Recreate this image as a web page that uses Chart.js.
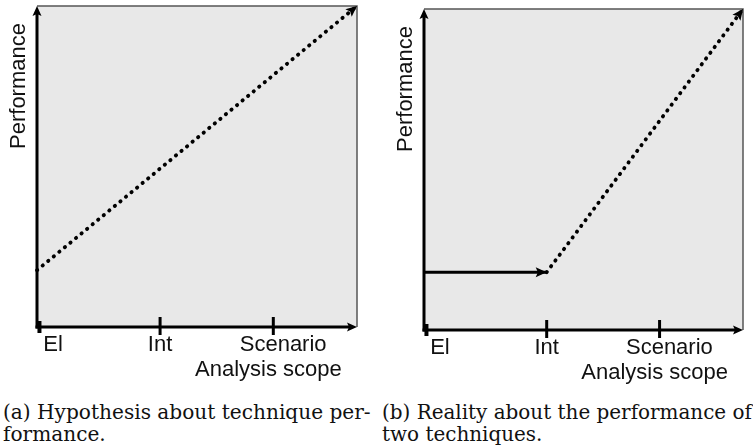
<!DOCTYPE html>
<html><head><meta charset="utf-8">
<script src="https://cdn.jsdelivr.net/npm/chart.js@4.4.0/dist/chart.umd.min.js"></script>
<style>
html,body{margin:0;padding:0;background:#fff;width:753px;height:448px;overflow:hidden}
#wrapA{position:absolute;left:0;top:0;width:376px;height:390px}
#wrapB{position:absolute;left:376px;top:0;width:377px;height:390px}
.cap{position:absolute;font-family:"DejaVu Serif","Liberation Serif",serif;font-size:17.5px;line-height:22px;color:#111;white-space:nowrap}
</style></head><body>
<div id="wrapA"><canvas id="cA"></canvas></div>
<div id="wrapB"><canvas id="cB"></canvas></div>
<div class="cap" id="a1" style="left:3px;top:401px">(a) Hypothesis about technique per-</div>
<div class="cap" id="a2" style="left:3px;top:423px">formance.</div>
<div class="cap" id="b1" style="left:382px;top:401px">(b) Reality about the performance of</div>
<div class="cap" id="b2" style="left:382px;top:423px">two techniques.</div>
<script>
// ---- data ----
const tickLabels = ['El', 'Int', 'Scenario'];
const tickLabelPos = [0.13, 1.0, 2.0];
const tickMarkPos = [0.02, 1.0, 1.92];
const xMax = 2.6;
const yMax = 1.0;
const xTitle = 'Analysis scope';
const xTitlePos = 1.88;
const yTitle = 'Performance';
const hypoX = [0, 2.6];
const hypoY = [0.177, 1.0];
const realSolidX = [0, 1.0];
const realSolidY = [0.18, 0.18];
const realDotX = [1.0, 2.6];
const realDotY = [0.18, 1.0];

const pts = (xs, ys) => xs.map((v, i) => ({x: v, y: ys[i]}));
const SANS = '"Liberation Sans", Arial, Helvetica, sans-serif';

function arrow(ctx, x, y, ang, len, half) {
  ctx.save();
  ctx.translate(x, y);
  ctx.rotate(ang);
  ctx.beginPath();
  ctx.moveTo(0, 0);
  ctx.lineTo(-len, -half);
  ctx.lineTo(-len * 0.8, 0);
  ctx.lineTo(-len, half);
  ctx.closePath();
  ctx.fill();
  ctx.restore();
}

const decor = {
  id: 'decor',
  beforeDatasetsDraw(chart) {
    const {ctx, chartArea: a} = chart;
    ctx.save();
    ctx.fillStyle = '#e8e8e8';
    ctx.fillRect(a.left, a.top, a.right - a.left, a.bottom - a.top);
    ctx.strokeStyle = '#555';
    ctx.lineWidth = 1.5;
    ctx.beginPath();
    ctx.moveTo(a.left, a.top);
    ctx.lineTo(a.right, a.top);
    ctx.lineTo(a.right, a.bottom);
    ctx.stroke();
    ctx.restore();
  },
  afterDatasetsDraw(chart) {
    const {ctx, chartArea: a, scales: {x}} = chart;
    ctx.save();
    ctx.strokeStyle = '#000';
    ctx.fillStyle = '#000';
    ctx.lineWidth = 3;
    ctx.lineCap = 'butt';
    // y axis
    ctx.beginPath();
    ctx.moveTo(a.left, a.bottom + 1.5);
    ctx.lineTo(a.left, a.top + 6);
    ctx.stroke();
    arrow(ctx, a.left, a.top, -Math.PI / 2, 10, 4.5);
    // x axis
    ctx.beginPath();
    ctx.moveTo(a.left - 1.5, a.bottom);
    ctx.lineTo(a.right - 6, a.bottom);
    ctx.stroke();
    arrow(ctx, a.right, a.bottom, 0, 10, 4.5);
    // tick marks
    tickMarkPos.forEach((v, i) => {
      const px = x.getPixelForValue(v);
      ctx.lineWidth = i === 0 ? 4 : 3;
      ctx.beginPath();
      ctx.moveTo(px, a.bottom - (i === 0 ? 6 : 10));
      ctx.lineTo(px, a.bottom + (i === 0 ? 6 : 8));
      ctx.stroke();
    });
    // arrowheads on series
    chart.data.datasets.forEach((ds, di) => {
      if (!ds.arrowEnd) return;
      const el = chart.getDatasetMeta(di).data;
      const p1 = el[el.length - 2], p2 = el[el.length - 1];
      const ang = Math.atan2(p2.y - p1.y, p2.x - p1.x);
      arrow(ctx, p2.x, p2.y, ang, 11, 5);
    });
    // titles
    ctx.fillStyle = '#111';
    ctx.font = '22px ' + SANS;
    ctx.textAlign = 'center';
    ctx.textBaseline = 'alphabetic';
    ctx.fillText(xTitle, x.getPixelForValue(xTitlePos), a.bottom + 49);
    ctx.save();
    ctx.translate(a.left - 12, a.top + 80);
    ctx.rotate(-Math.PI / 2);
    ctx.fillText(yTitle, 0, 0);
    ctx.restore();
    ctx.restore();
  }
};

function makeChart(id, datasets, yAxisW, xAxisH, padTop, padRight) {
  return new Chart(document.getElementById(id), {
    type: 'line',
    data: {datasets},
    options: {
      responsive: true,
      maintainAspectRatio: false,
      animation: false,
      events: [],
      layout: {padding: {top: padTop, right: padRight, left: 0, bottom: 0}},
      plugins: {legend: {display: false}, tooltip: {enabled: false}},
      elements: {point: {radius: 0}, line: {tension: 0}},
      scales: {
        x: {
          type: 'linear', min: 0, max: xMax,
          grid: {display: false, drawTicks: false},
          border: {display: false},
          afterBuildTicks: s => { s.ticks = tickLabelPos.map(v => ({value: v})); },
          afterFit: s => { s.height = xAxisH; },
          ticks: {
            autoSkip: false, maxRotation: 0, padding: 5,
            color: '#111', font: {family: SANS, size: 22},
            callback: (v, i) => tickLabels[i]
          }
        },
        y: {
          type: 'linear', min: 0, max: yMax,
          grid: {display: false, drawTicks: false},
          border: {display: false},
          ticks: {display: false},
          afterFit: s => { s.width = yAxisW; }
        }
      }
    },
    plugins: [decor]
  });
}

const dotted = {borderColor: '#000', borderWidth: 3.8, borderDash: [0.4, 6.8], borderCapStyle: 'round', clip: false, fill: false};
const solid = {borderColor: '#000', borderWidth: 3, clip: false, fill: false};

makeChart('cA', [
  Object.assign({label: 'Hypothesis', data: pts(hypoX, hypoY), arrowEnd: true}, dotted)
], 37, 63, 6, 19);

makeChart('cB', [
  Object.assign({label: 'Technique 1', data: pts(realSolidX, realSolidY), arrowEnd: true}, solid),
  Object.assign({label: 'Technique 2', data: pts(realDotX, realDotY), arrowEnd: true}, dotted)
], 48, 60, 9, 10);

// scale caption font so the first line spans the reference width
function fitW(ids, w) {
  const el = document.getElementById(ids[0]);
  const cur = el.getBoundingClientRect().width;
  const fs = (17.5 * Math.max(0.85, Math.min(1.15, w / cur))).toFixed(2) + 'px';
  ids.forEach(id => document.getElementById(id).style.fontSize = fs);
}
fitW(['a1', 'a2'], 368);
fitW(['b1', 'b2'], 370);
</script>
</body></html>
